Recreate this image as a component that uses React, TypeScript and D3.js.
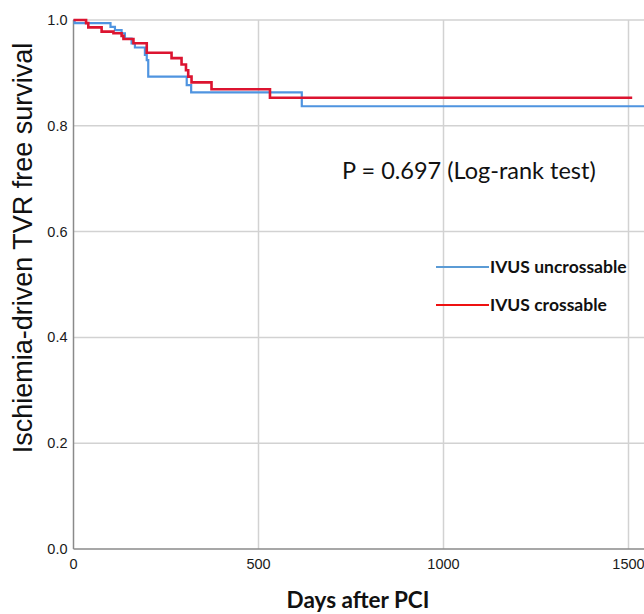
import * as d3 from 'd3';
import { useEffect, useRef } from 'react';

// Kaplan-Meier steps (days, survival)
const uncrossDays = [0, 3, 100, 112, 130, 139, 157, 166, 193, 198, 202, 306, 318, 617, 1700];
const uncrossSurv = [1.0, 0.994, 0.987, 0.981, 0.975, 0.965, 0.956, 0.948, 0.934, 0.924, 0.893, 0.877, 0.863, 0.837, 0.837];

const crossDays = [0, 34, 40, 76, 108, 130, 135, 162, 198, 265, 292, 304, 310, 319, 373, 531, 1510];
const crossSurv = [1.0, 0.994, 0.986, 0.978, 0.975, 0.97, 0.964, 0.956, 0.938, 0.928, 0.916, 0.905, 0.893, 0.882, 0.869, 0.853, 0.853];

const xTicks = [0, 500, 1000, 1500];
const yTicks = [0, 0.2, 0.4, 0.6, 0.8, 1.0];

const legendLabels = ['IVUS uncrossable', 'IVUS crossable'];
const pValueText = 'P = 0.697 (Log-rank test)';

export default function App() {
    const ref = useRef<HTMLDivElement>(null);

    useEffect(() => {
        const width = 644;
        const height = 614;
        const blue = '#4f94e0';
        const red = '#dc1430';
        const gridColor = '#d2d2d2';
        const axisColor = '#8a8a8a';

        const x = d3.scaleLinear().domain([0, 1500]).range([73.5, 628.5]);
        const y = d3.scaleLinear().domain([0, 1]).range([549, 20]);

        const svg = d3
            .create('svg')
            .attr('width', width)
            .attr('height', height)
            .style('display', 'block');

        svg.append('rect').attr('width', width).attr('height', height).attr('fill', 'white');

        // grid
        svg.append('g')
            .selectAll('line.h')
            .data(yTicks.filter(d => d > 0))
            .join('line')
            .attr('x1', x(0))
            .attr('x2', width)
            .attr('y1', d => y(d))
            .attr('y2', d => y(d))
            .attr('stroke', gridColor)
            .attr('stroke-width', 1.5);

        svg.append('g')
            .selectAll('line.v')
            .data(xTicks.filter(d => d > 0))
            .join('line')
            .attr('x1', d => x(d))
            .attr('x2', d => x(d))
            .attr('y1', y(1))
            .attr('y2', y(0))
            .attr('stroke', gridColor)
            .attr('stroke-width', 1.5);

        // axes lines
        svg.append('line')
            .attr('x1', x(0)).attr('x2', x(0))
            .attr('y1', y(1)).attr('y2', y(0))
            .attr('stroke', axisColor).attr('stroke-width', 1.5);
        svg.append('line')
            .attr('x1', x(0)).attr('x2', width)
            .attr('y1', y(0)).attr('y2', y(0))
            .attr('stroke', axisColor).attr('stroke-width', 1.5);

        // tick labels
        svg.append('g')
            .selectAll('text')
            .data(yTicks)
            .join('text')
            .attr('x', 67.5)
            .attr('y', d => y(d) + 5)
            .attr('text-anchor', 'end')
            .attr('font-family', 'Liberation Sans, Arial, sans-serif')
            .attr('font-size', 14.5)
            .attr('fill', '#1a1a1a')
            .text(d => d.toFixed(1));

        svg.append('g')
            .selectAll('text')
            .data(xTicks)
            .join('text')
            .attr('x', d => x(d))
            .attr('y', 569)
            .attr('text-anchor', 'middle')
            .attr('font-family', 'Liberation Sans, Arial, sans-serif')
            .attr('font-size', 14.5)
            .attr('fill', '#1a1a1a')
            .text(d => String(d));

        // axis titles
        svg.append('text')
            .attr('transform', `translate(32,248) rotate(-90)`)
            .attr('text-anchor', 'middle')
            .attr('font-family', 'Liberation Sans, Arial, sans-serif')
            .attr('font-size', 27)
            .attr('fill', '#111')
            .text('Ischiemia-driven TVR free survival');

        svg.append('text')
            .attr('x', 358)
            .attr('y', 607.5)
            .attr('text-anchor', 'middle')
            .attr('font-family', 'Lato, sans-serif')
            .attr('font-weight', 700)
            .attr('font-size', 22.5)
            .attr('fill', '#111')
            .text('Days after PCI');

        // survival curves
        const line = d3.line<[number, number]>()
            .x(d => x(d[0]))
            .y(d => y(d[1]))
            .curve(d3.curveStepAfter);

        const series = [
            { days: uncrossDays, surv: uncrossSurv, color: blue, w: 2.2 },
            { days: crossDays, surv: crossSurv, color: red, w: 2.6 },
        ];

        series.forEach(s => {
            const pts = s.days.map((d, i) => [d, s.surv[i]] as [number, number]);
            svg.append('path')
                .attr('d', line(pts))
                .attr('fill', 'none')
                .attr('stroke', s.color)
                .attr('stroke-width', s.w);
        });

        // p-value
        svg.append('text')
            .attr('x', 342)
            .attr('y', 178.5)
            .attr('font-family', 'Lato, sans-serif')
            .attr('font-size', 23.5)
            .attr('fill', '#111')
            .text(pValueText);

        // legend
        const legendColors = ['#5b9bd5', '#ee1111'];
        const legendY = [267, 305];
        legendLabels.forEach((label, i) => {
            svg.append('line')
                .attr('x1', 436).attr('x2', 489)
                .attr('y1', legendY[i]).attr('y2', legendY[i])
                .attr('stroke', legendColors[i])
                .attr('stroke-width', 2);
            svg.append('text')
                .attr('x', 490)
                .attr('y', legendY[i] + 6)
                .attr('font-family', 'Lato, sans-serif')
                .attr('font-weight', 700)
                .attr('font-size', 17.5)
                .attr('fill', '#111')
                .text(label);
        });

        ref.current?.append(svg.node() as SVGSVGElement);
        return () => { ref.current && (ref.current.innerHTML = ''); };
    }, []);

    return <div ref={ref} style={{ position: 'absolute', left: 0, top: 0 }}></div>;
}
